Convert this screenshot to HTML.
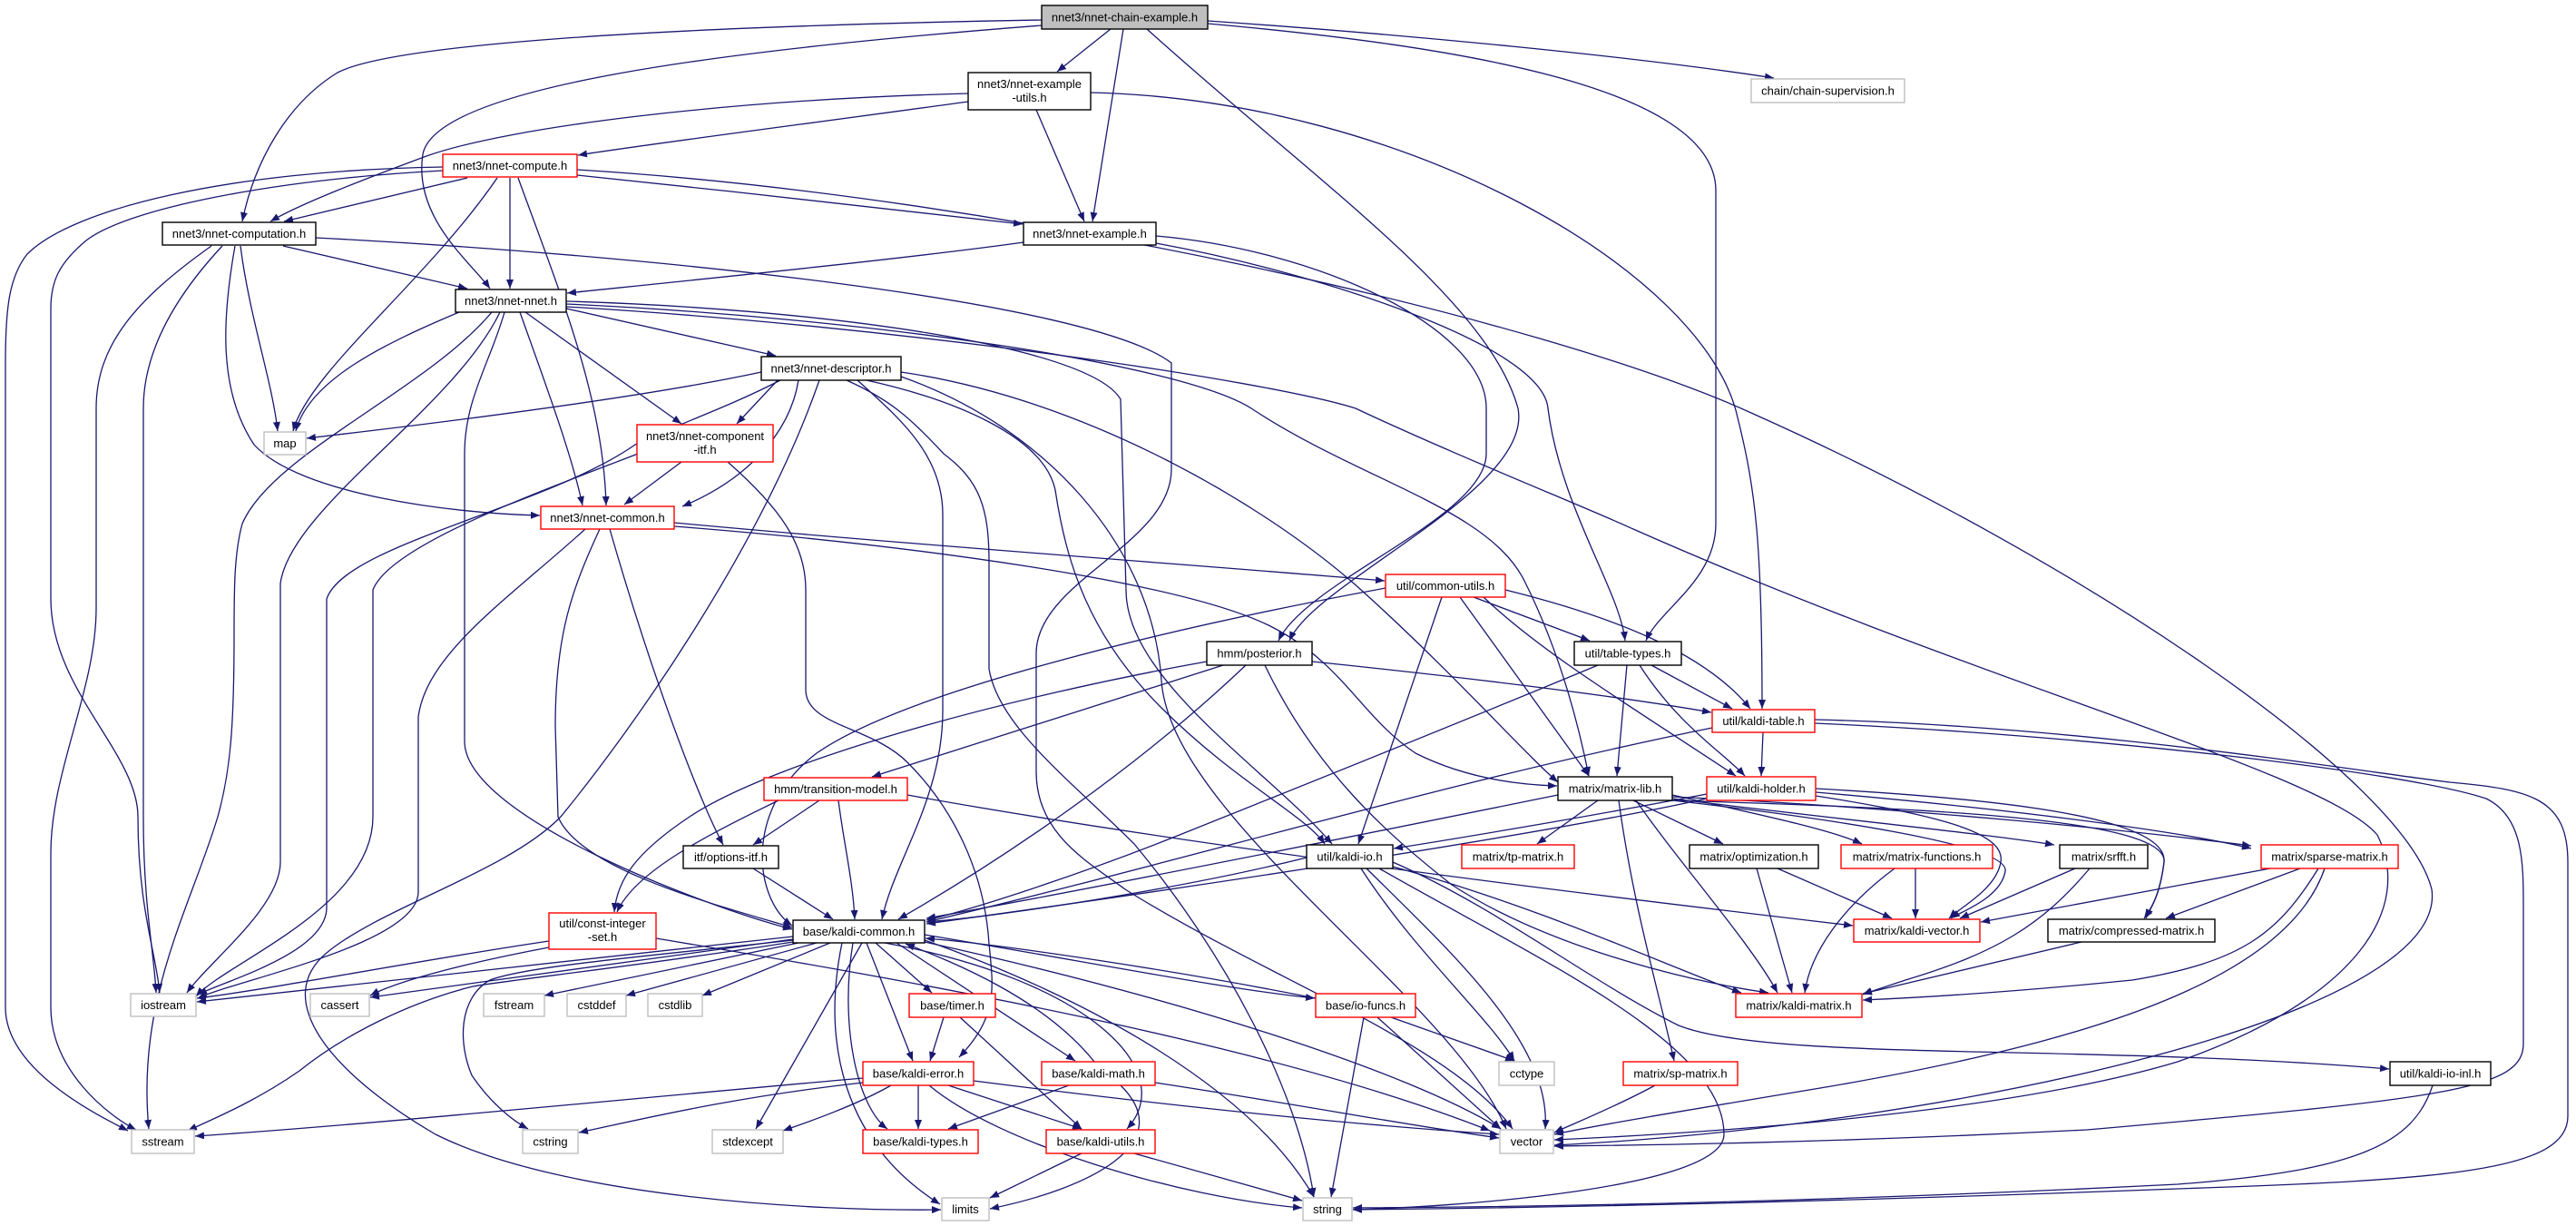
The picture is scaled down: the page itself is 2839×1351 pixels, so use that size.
<!DOCTYPE html>
<html><head><meta charset="utf-8"><style>
html,body{margin:0;padding:0;background:#fff;}
svg{display:block;}
.e{fill:none;stroke:#191970;stroke-width:1.3;marker-end:url(#a);}
.n{fill:#fff;stroke-width:1.4;}
.k{stroke:#000;}
.r{stroke:#ff0000;}
.g{stroke:#bfbfbf;}
text{font-family:"Liberation Sans",Arial,sans-serif;font-size:13px;fill:#000;text-anchor:middle;}
</style></head><body>
<svg width="2839" height="1351" viewBox="0 0 2839 1351" xmlns="http://www.w3.org/2000/svg">
<defs><marker id="a" viewBox="0 0 10 8" refX="10" refY="4" markerWidth="10" markerHeight="8" markerUnits="userSpaceOnUse" orient="auto"><path d="M0,0 L10,4 L0,8 z" fill="#191970"/></marker></defs>
<rect width="2839" height="1351" fill="#fff"/>
<g>
<path class="e" d="M1224,32 L1165,79"/>
<path class="e" d="M1238,32 L1204,244"/>
<path class="e" d="M1331,23 C1550,38 1800,62 1955,86"/>
<path class="e" d="M1331,26 C1600,50 1891,95 1891,210 L1891,577 C1891,640 1828,672 1814,706"/>
<path class="e" d="M1148,22 C700,30 430,50 372,80 C315,115 280,180 267,244"/>
<path class="e" d="M1148,28 C800,55 480,95 466,170 C455,240 520,290 540,318"/>
<path class="e" d="M1264,32 C1450,200 1640,330 1673,450 C1690,540 1450,640 1421,706"/>
<path class="e" d="M1067,112 C900,135 720,158 637,171"/>
<path class="e" d="M1067,103 C800,110 560,140 470,172 C400,198 330,225 298,244"/>
<path class="e" d="M1142,121 L1195,244"/>
<path class="e" d="M1202,102 C1550,110 1880,300 1915,460 C1935,540 1942,600 1942,781"/>
<path class="e" d="M515,196 L313,244"/>
<path class="e" d="M562,196 L562,318"/>
<path class="e" d="M548,196 C470,310 340,410 323,475"/>
<path class="e" d="M571,196 C620,330 665,440 668,557"/>
<path class="e" d="M636,193 C800,210 1000,232 1127,247"/>
<path class="e" d="M488,184 C250,188 80,230 30,280 C10,305 6,340 6,400 L6,1110 C6,1180 110,1230 141,1246"/>
<path class="e" d="M488,188 C300,198 140,230 95,265 C65,290 56,310 56,340 L56,660 C56,760 152,830 152,900 C152,1000 172,1050 176,1094"/>
<path class="e" d="M636,187 C1100,215 1700,350 1930,455 C2300,620 2650,860 2680,980 C2700,1120 2150,1240 1713,1262"/>
<path class="e" d="M312,271 L515,318"/>
<path class="e" d="M233,271 C150,330 106,380 106,450 L106,670 C106,760 56,850 56,940 L56,1110 C56,1180 120,1230 150,1245"/>
<path class="e" d="M245,271 C190,330 158,390 158,450 L158,900 C158,1000 170,1050 172,1094"/>
<path class="e" d="M259,271 C245,350 240,430 280,490 C330,545 500,566 595,568"/>
<path class="e" d="M265,271 C275,350 300,420 306,475"/>
<path class="e" d="M348,262 C700,280 1200,330 1291,400 L1291,517 C1291,600 1142,640 1142,720 L1142,850 C1142,920 1200,950 1240,980 C1400,1080 1600,1150 1667,1244"/>
<path class="e" d="M1128,267 C1000,285 750,310 625,323"/>
<path class="e" d="M1274,260 C1450,275 1638,360 1638,450 L1638,500 C1638,570 1440,640 1409,706"/>
<path class="e" d="M1274,268 C1450,300 1700,380 1706,450 C1720,560 1785,650 1791,706"/>
<path class="e" d="M506,344 C420,380 340,420 326,475"/>
<path class="e" d="M542,344 C470,430 300,500 267,577 C258,610 258,650 258,700 C258,800 254,850 240,900 C210,1000 150,1100 164,1244"/>
<path class="e" d="M551,344 C500,450 320,560 309,643 L309,950 C309,1000 230,1060 206,1094"/>
<path class="e" d="M556,344 C540,400 512,440 512,500 L512,817 C512,900 780,1000 873,1024"/>
<path class="e" d="M573,344 C600,420 630,500 642,557"/>
<path class="e" d="M579,344 L751,467"/>
<path class="e" d="M624,340 L855,392"/>
<path class="e" d="M624,332 C900,340 1200,380 1235,440 L1241,650 C1241,750 1400,850 1468,930"/>
<path class="e" d="M624,335 C950,350 1300,400 1379,450 C1500,530 1640,560 1680,640 C1720,720 1740,800 1751,855"/>
<path class="e" d="M624,338 C1000,360 1400,420 1494,450 C1600,500 1750,560 1800,583 C2200,760 2560,850 2620,920 C2660,1000 2600,1100 2400,1170 C2200,1230 1850,1250 1713,1256"/>
<path class="e" d="M839,410 C700,440 450,470 338,483"/>
<path class="e" d="M857,419 L812,467"/>
<path class="e" d="M880,419 C870,480 820,530 752,558"/>
<path class="e" d="M860,419 C800,450 740,470 700,490 C600,560 380,600 360,660 L360,1000 C360,1050 250,1080 218,1096"/>
<path class="e" d="M903,419 C840,600 700,800 618,900 C560,960 420,1000 360,1050 C300,1100 360,1180 480,1250 C620,1320 900,1335 1037,1333"/>
<path class="e" d="M945,419 C990,460 1039,500 1039,567 L1039,783 C1039,880 985,950 972,1013"/>
<path class="e" d="M933,419 C980,440 1003,460 1040,500 C1080,530 1090,560 1090,620 L1090,737 C1100,800 1180,860 1250,930 C1350,1050 1430,1200 1448,1319"/>
<path class="e" d="M955,419 C1050,440 1150,480 1163,540 C1175,620 1200,700 1280,780 C1360,860 1440,900 1460,930"/>
<path class="e" d="M993,410 C1200,440 1400,560 1500,650 C1600,740 1680,830 1717,862"/>
<path class="e" d="M993,415 C1150,470 1270,600 1280,750 C1290,900 1600,1100 1660,1244"/>
<path class="e" d="M703,500 C600,540 430,600 411,650 L411,900 C411,1000 250,1060 216,1098"/>
<path class="e" d="M751,509 L688,556"/>
<path class="e" d="M802,509 C860,560 888,600 888,650 L888,760 C888,800 960,800 1000,840 C1050,890 1085,960 1090,1040 C1095,1090 1100,1120 1057,1165"/>
<path class="e" d="M743,576 C1000,600 1350,625 1526,640"/>
<path class="e" d="M743,580 C1000,600 1300,640 1400,690 C1480,730 1500,790 1560,830 C1620,860 1680,865 1716,866"/>
<path class="e" d="M645,583 C560,660 470,720 461,790 L461,983 C461,1040 260,1080 218,1100"/>
<path class="e" d="M661,583 C630,650 612,700 612,800 L615,900 C640,960 800,1000 873,1022"/>
<path class="e" d="M672,583 C720,750 770,880 797,931"/>
<path class="e" d="M1527,648 C1300,690 1000,760 900,830 C820,890 830,990 873,1020"/>
<path class="e" d="M1589,658 L1497,930"/>
<path class="e" d="M1609,658 L1751,855"/>
<path class="e" d="M1624,658 L1752,706"/>
<path class="e" d="M1659,650 C1780,680 1880,720 1929,781"/>
<path class="e" d="M1635,658 C1700,720 1800,780 1913,855"/>
<path class="e" d="M1330,729 C1100,770 850,840 760,900 C700,940 680,970 677,1005"/>
<path class="e" d="M1348,733 L961,856"/>
<path class="e" d="M1373,733 C1250,850 1100,950 990,1013"/>
<path class="e" d="M1394,733 C1450,850 1530,920 1600,975 C1700,1040 1850,1080 1949,1094"/>
<path class="e" d="M1446,729 C1650,750 1800,770 1886,785"/>
<path class="e" d="M1820,733 L1909,781"/>
<path class="e" d="M1807,733 C1850,800 1900,830 1923,855"/>
<path class="e" d="M1793,733 L1782,855"/>
<path class="e" d="M1761,733 C1600,800 1400,880 1300,920 C1200,960 1080,1000 1021,1014"/>
<path class="e" d="M1943,807 L1941,855"/>
<path class="e" d="M1887,802 C1600,860 1300,950 1021,1016"/>
<path class="e" d="M2000,797 C2300,810 2650,850 2740,880 C2781,900 2781,950 2781,1000 L2781,1150 C2781,1200 2700,1210 2300,1245 C2000,1260 1800,1262 1713,1263"/>
<path class="e" d="M2000,793 C2300,800 2600,850 2700,862 C2790,870 2830,880 2830,950 L2830,1230 C2830,1290 2700,1300 2400,1310 C2000,1325 1700,1331 1491,1333"/>
<path class="e" d="M858,882 C780,920 700,960 680,1005"/>
<path class="e" d="M903,882 L830,931"/>
<path class="e" d="M924,882 C930,930 940,970 942,1013"/>
<path class="e" d="M1000,876 C1300,930 1700,980 2042,1020"/>
<path class="e" d="M1881,875 C1750,900 1600,925 1536,935"/>
<path class="e" d="M2001,877 C2150,900 2210,920 2205,950 C2200,980 2160,1000 2148,1012"/>
<path class="e" d="M2001,869 C2200,880 2390,900 2385,950 C2380,990 2368,1005 2363,1012"/>
<path class="e" d="M2001,873 C2200,890 2400,915 2481,935"/>
<path class="e" d="M1881,880 C1700,920 1300,980 1021,1018"/>
<path class="e" d="M1717,876 C1500,920 1200,980 1021,1012"/>
<path class="e" d="M1761,882 L1694,930"/>
<path class="e" d="M1784,882 C1800,1000 1830,1100 1845,1169"/>
<path class="e" d="M1800,882 L1899,930"/>
<path class="e" d="M1843,876 C1950,900 2020,915 2052,930"/>
<path class="e" d="M1843,880 C2000,900 2200,920 2264,931"/>
<path class="e" d="M1843,878 C2100,890 2350,915 2481,932"/>
<path class="e" d="M1843,882 C2000,900 2215,930 2210,960 C2205,990 2160,1005 2150,1012"/>
<path class="e" d="M1843,882 C2100,890 2390,900 2385,950 C2380,990 2370,1000 2365,1012"/>
<path class="e" d="M1803,882 C1850,950 1930,1040 1959,1094"/>
<path class="e" d="M1959,957 L2085,1012"/>
<path class="e" d="M1936,957 L1975,1094"/>
<path class="e" d="M2111,957 L2111,1012"/>
<path class="e" d="M2088,957 C2030,1000 1995,1050 1989,1094"/>
<path class="e" d="M2287,957 L2160,1012"/>
<path class="e" d="M2303,957 C2250,1020 2200,1050 2100,1080 C2070,1090 2060,1093 2053,1096"/>
<path class="e" d="M2502,957 L2183,1016"/>
<path class="e" d="M2535,957 L2387,1012"/>
<path class="e" d="M2555,957 C2510,1030 2470,1060 2350,1080 C2200,1095 2100,1100 2053,1102"/>
<path class="e" d="M2562,957 C2520,1080 2300,1150 2000,1200 C1850,1225 1760,1240 1713,1250"/>
<path class="e" d="M2294,1038 L2053,1095"/>
<path class="e" d="M830,957 L918,1013"/>
<path class="e" d="M605,1037 C450,1060 300,1090 217,1100"/>
<path class="e" d="M605,1044 C520,1060 440,1080 408,1097"/>
<path class="e" d="M723,1034 C1000,1080 1400,1150 1642,1246"/>
<path class="e" d="M874,1032 L217,1104"/>
<path class="e" d="M874,1035 L408,1099"/>
<path class="e" d="M874,1038 C700,1065 560,1080 521,1087 C450,1105 380,1140 330,1180 C280,1215 230,1235 207,1246"/>
<path class="e" d="M874,1036 C700,1055 580,1065 540,1080 C505,1100 505,1150 520,1185 C540,1215 565,1235 582,1244"/>
<path class="e" d="M880,1039 L600,1097"/>
<path class="e" d="M900,1039 L690,1097"/>
<path class="e" d="M915,1039 L774,1097"/>
<path class="e" d="M950,1039 L833,1244"/>
<path class="e" d="M928,1039 C905,1150 930,1260 1036,1327"/>
<path class="e" d="M940,1039 C925,1130 945,1220 978,1244"/>
<path class="e" d="M955,1039 L1006,1169"/>
<path class="e" d="M965,1039 L1027,1094"/>
<path class="e" d="M988,1039 L1185,1169"/>
<path class="e" d="M975,1039 C1200,1080 1300,1180 1242,1244"/>
<path class="e" d="M1019,1030 C1200,1060 1350,1090 1449,1100"/>
<path class="e" d="M1019,1036 C1200,1100 1380,1200 1448,1319"/>
<path class="e" d="M1019,1038 C1300,1100 1550,1180 1654,1244"/>
<path class="e" d="M1440,945 C1300,980 1100,1010 1021,1016"/>
<path class="e" d="M1500,957 C1560,1050 1640,1120 1669,1169"/>
<path class="e" d="M1506,957 C1600,1050 1710,1150 1703,1244"/>
<path class="e" d="M1535,950 C1650,1000 1750,1080 1850,1130 C1950,1170 2300,1150 2633,1178"/>
<path class="e" d="M1535,955 C1700,1000 1850,1070 1919,1094"/>
<path class="e" d="M1520,957 C1700,1060 1900,1150 1900,1250 C1900,1310 1600,1330 1491,1333"/>
<path class="e" d="M1040,1121 L1025,1169"/>
<path class="e" d="M1058,1121 L1192,1244"/>
<path class="e" d="M1450,1100 C1300,1070 1100,1040 1020,1034"/>
<path class="e" d="M1503,1121 L1467,1319"/>
<path class="e" d="M1518,1121 L1654,1244"/>
<path class="e" d="M1533,1121 L1669,1169"/>
<path class="e" d="M951,1188 C700,1210 400,1240 215,1252"/>
<path class="e" d="M951,1193 C800,1210 700,1235 638,1248"/>
<path class="e" d="M982,1196 C940,1220 880,1240 863,1246"/>
<path class="e" d="M1012,1196 L1012,1244"/>
<path class="e" d="M1024,1196 C1100,1260 1300,1320 1435,1331"/>
<path class="e" d="M1045,1196 L1192,1244"/>
<path class="e" d="M1073,1191 C1300,1220 1500,1240 1652,1250"/>
<path class="e" d="M1178,1196 L1045,1244"/>
<path class="e" d="M1206,1170 C1150,1100 1050,1060 998,1040"/>
<path class="e" d="M1235,1196 C1300,1260 1200,1310 1091,1332"/>
<path class="e" d="M1273,1193 C1450,1220 1550,1240 1652,1254"/>
<path class="e" d="M1192,1271 L1091,1320"/>
<path class="e" d="M1250,1271 L1435,1323"/>
<path class="e" d="M1824,1196 C1780,1220 1730,1240 1713,1248"/>
<path class="e" d="M2681,1196 C2660,1260 2600,1290 2400,1305 C2000,1325 1700,1330 1491,1331"/>
</g>
<g>
<rect class="n k" x="1148" y="6" width="183" height="26" style="fill:#bfbfbf"/><text x="1239.5" y="23.5">nnet3/nnet-chain-example.h</text>
<rect class="n k" x="1067" y="80" width="135" height="41"/><text x="1134.5" y="97">nnet3/nnet-example</text><text x="1134.5" y="112">-utils.h</text>
<rect class="n g" x="1930" y="87" width="169" height="26"/><text x="2014.5" y="104.5">chain/chain-supervision.h</text>
<rect class="n r" x="488" y="170" width="148" height="25"/><text x="562" y="187">nnet3/nnet-compute.h</text>
<rect class="n k" x="179" y="245" width="169" height="25"/><text x="263.5" y="262">nnet3/nnet-computation.h</text>
<rect class="n k" x="1128" y="245" width="146" height="25"/><text x="1201" y="262">nnet3/nnet-example.h</text>
<rect class="n k" x="502" y="319" width="122" height="25"/><text x="563" y="336">nnet3/nnet-nnet.h</text>
<rect class="n k" x="839" y="393" width="154" height="26"/><text x="916" y="410.5">nnet3/nnet-descriptor.h</text>
<rect class="n g" x="291" y="476" width="46" height="25"/><text x="314" y="493">map</text>
<rect class="n r" x="702" y="468" width="150" height="41"/><text x="777" y="485">nnet3/nnet-component</text><text x="777" y="500">-itf.h</text>
<rect class="n r" x="596" y="558" width="147" height="25"/><text x="669.5" y="575">nnet3/nnet-common.h</text>
<rect class="n r" x="1527" y="633" width="132" height="25"/><text x="1593" y="650">util/common-utils.h</text>
<rect class="n k" x="1330" y="707" width="116" height="26"/><text x="1388" y="724.5">hmm/posterior.h</text>
<rect class="n k" x="1735" y="707" width="118" height="26"/><text x="1794" y="724.5">util/table-types.h</text>
<rect class="n r" x="1887" y="782" width="113" height="25"/><text x="1943.5" y="799">util/kaldi-table.h</text>
<rect class="n r" x="842" y="857" width="158" height="25"/><text x="921" y="874">hmm/transition-model.h</text>
<rect class="n k" x="1717" y="856" width="126" height="26"/><text x="1780" y="873.5">matrix/matrix-lib.h</text>
<rect class="n r" x="1881" y="856" width="120" height="26"/><text x="1941" y="873.5">util/kaldi-holder.h</text>
<rect class="n k" x="753" y="932" width="105" height="25"/><text x="805.5" y="949">itf/options-itf.h</text>
<rect class="n k" x="1440" y="931" width="95" height="26"/><text x="1487.5" y="948.5">util/kaldi-io.h</text>
<rect class="n r" x="1611" y="931" width="124" height="26"/><text x="1673" y="948.5">matrix/tp-matrix.h</text>
<rect class="n k" x="1862" y="931" width="142" height="26"/><text x="1933" y="948.5">matrix/optimization.h</text>
<rect class="n r" x="2029" y="931" width="167" height="26"/><text x="2112.5" y="948.5">matrix/matrix-functions.h</text>
<rect class="n k" x="2270" y="931" width="97" height="26"/><text x="2318.5" y="948.5">matrix/srfft.h</text>
<rect class="n r" x="2492" y="931" width="151" height="26"/><text x="2567.5" y="948.5">matrix/sparse-matrix.h</text>
<rect class="n r" x="605" y="1006" width="118" height="40"/><text x="664" y="1022">util/const-integer</text><text x="664" y="1037">-set.h</text>
<rect class="n k" x="874" y="1014" width="145" height="25"/><text x="946.5" y="1031">base/kaldi-common.h</text>
<rect class="n r" x="2043" y="1013" width="139" height="25"/><text x="2112.5" y="1030">matrix/kaldi-vector.h</text>
<rect class="n k" x="2257" y="1013" width="184" height="25"/><text x="2349" y="1030">matrix/compressed-matrix.h</text>
<rect class="n g" x="144" y="1095" width="72" height="25"/><text x="180" y="1112">iostream</text>
<rect class="n g" x="342" y="1095" width="65" height="25"/><text x="374.5" y="1112">cassert</text>
<rect class="n g" x="533" y="1095" width="67" height="25"/><text x="566.5" y="1112">fstream</text>
<rect class="n g" x="625" y="1095" width="65" height="25"/><text x="657.5" y="1112">cstddef</text>
<rect class="n g" x="714" y="1095" width="60" height="25"/><text x="744" y="1112">cstdlib</text>
<rect class="n r" x="1002" y="1095" width="95" height="26"/><text x="1049.5" y="1112.5">base/timer.h</text>
<rect class="n r" x="1450" y="1095" width="110" height="26"/><text x="1505" y="1112.5">base/io-funcs.h</text>
<rect class="n r" x="1913" y="1095" width="139" height="26"/><text x="1982.5" y="1112.5">matrix/kaldi-matrix.h</text>
<rect class="n r" x="951" y="1170" width="122" height="26"/><text x="1012" y="1187.5">base/kaldi-error.h</text>
<rect class="n r" x="1148" y="1170" width="125" height="26"/><text x="1210.5" y="1187.5">base/kaldi-math.h</text>
<rect class="n g" x="1652" y="1170" width="61" height="26"/><text x="1682.5" y="1187.5">cctype</text>
<rect class="n r" x="1789" y="1170" width="126" height="26"/><text x="1852" y="1187.5">matrix/sp-matrix.h</text>
<rect class="n k" x="2634" y="1170" width="111" height="26"/><text x="2689.5" y="1187.5">util/kaldi-io-inl.h</text>
<rect class="n g" x="145" y="1245" width="69" height="26"/><text x="179.5" y="1262.5">sstream</text>
<rect class="n g" x="576" y="1245" width="61" height="26"/><text x="606.5" y="1262.5">cstring</text>
<rect class="n g" x="785" y="1245" width="78" height="26"/><text x="824" y="1262.5">stdexcept</text>
<rect class="n r" x="951" y="1245" width="127" height="26"/><text x="1014.5" y="1262.5">base/kaldi-types.h</text>
<rect class="n r" x="1153" y="1245" width="120" height="26"/><text x="1213" y="1262.5">base/kaldi-utils.h</text>
<rect class="n g" x="1653" y="1245" width="59" height="26"/><text x="1682.5" y="1262.5">vector</text>
<rect class="n g" x="1038" y="1320" width="52" height="25"/><text x="1064" y="1337">limits</text>
<rect class="n g" x="1436" y="1320" width="54" height="25"/><text x="1463" y="1337">string</text>
</g>
</svg>
</body></html>
